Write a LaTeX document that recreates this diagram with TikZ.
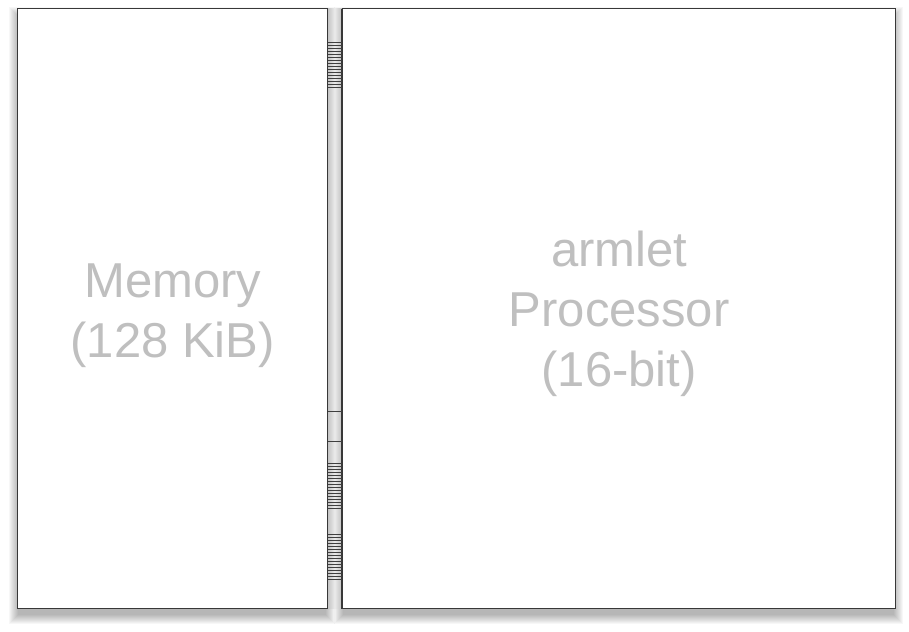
\documentclass[tikz,border=0pt]{standalone}
\usepackage{fontspec}
\setmainfont{Liberation Sans}
\begin{document}
\begin{tikzpicture}[x=1pt,y=1pt,
  unitbox/.style={draw=black!78, line width=1.4pt, fill=white},
  boxlabel/.style={text=black!25, font=\fontsize{49}{60}\selectfont, align=center},
  hatch/.style={draw=black!75, line width=0.9pt}]
\useasboundingbox (0,0) rectangle (909,631);
\fill[white] (0,0) rectangle (909,631);
% soft shadows
\foreach \i in {1,...,10}{
  \fill[black, opacity=0.03] (17-\i+2,22-5-\i) rectangle (327+\i-2,622-5+\i-3);
  \fill[black, opacity=0.03] (342-\i+2,22-5-\i) rectangle (895+\i-2,622-5+\i-3);
}
% bus strip
\shade[left color=black!25, right color=black!25, middle color=black!8] (327,22) rectangle (342,622);
\draw[black!78, line width=1.2pt] (327,22) -- (327,622) (342,22) -- (342,622);
\foreach \y in {42,45,...,87}{ \draw[hatch] (327,631-\y) -- (342,631-\y); }
\foreach \y in {463,466,...,508}{ \draw[hatch] (327,631-\y) -- (342,631-\y); }
\foreach \y in {534,537,...,579}{ \draw[hatch] (327,631-\y) -- (342,631-\y); }
\draw[hatch] (327,631-411) -- (342,631-411);
\draw[hatch] (327,631-441) -- (342,631-441);
% boxes
\node[unitbox, minimum width=310pt, minimum height=600pt, inner sep=0pt, anchor=south west] (mem) at (17,22) {};
\node[unitbox, minimum width=553pt, minimum height=600pt, inner sep=0pt, anchor=south west] (cpu) at (342,22) {};
\node[boxlabel] (memlabel) at ([yshift=-7.5pt]mem.center) {Memory\\(128 KiB)};
\node[boxlabel] (cpulabel) at ([yshift=-5.5pt]cpu.center) {armlet\\Processor\\(16-bit)};
\end{tikzpicture}
\end{document}
